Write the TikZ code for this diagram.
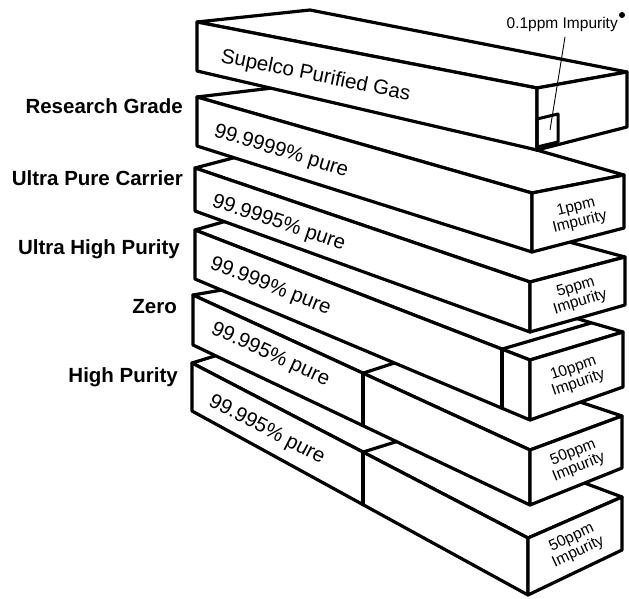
\documentclass[tikz,border=0pt]{standalone}
\usepackage{fontspec}
\setmainfont{Liberation Sans}
\usetikzlibrary{calc}
\newcommand\drawgasbox[1]{%
  \filldraw[edge] (#1flt)--(#1blt)--(#1brt)--(#1frt)--cycle;
  \filldraw[edge] (#1flt)--(#1frt)--(#1frb)--(#1flb)--cycle;
  \filldraw[edge] (#1frt)--(#1brt)--(#1brb)--(#1frb)--cycle;}
\begin{document}
\begin{tikzpicture}[x=1pt,y=-1pt,
  edge/.style={draw=black,fill=white,line width=3.2pt,line join=round},
  divline/.style={draw=black,line width=3.2pt,line cap=round},
  grade/.style={font=\fontsize{20.5}{24}\selectfont\bfseries,anchor=base east,inner sep=0pt},
  puretext/.style={font=\fontsize{20.5}{24}\selectfont,anchor=base west,inner sep=0pt},
  imptext/.style={font=\fontsize{15.5}{15.5}\selectfont,align=center,inner sep=0pt},
]
\useasboundingbox (0,0) rectangle (629,599);

% ---- coordinates ----
\coordinate (b0flt) at (197,22);  \coordinate (b0flb) at (197,71);
\coordinate (b0frt) at (537,88);  \coordinate (b0frb) at (537,150);
\coordinate (b0brt) at (627,72);  \coordinate (b0brb) at (627,127);
\coordinate (b0blt) at (310,10);

\coordinate (b1flt) at (197,97);  \coordinate (b1flb) at (197,146);
\coordinate (b1frt) at (532,193); \coordinate (b1frb) at (532,252);
\coordinate (b1brt) at (624,175); \coordinate (b1brb) at (624,228);
\coordinate (b1blt) at (306,84);

\coordinate (b2flt) at (195,168); \coordinate (b2flb) at (195,211);
\coordinate (b2frt) at (530,282); \coordinate (b2frb) at (530,332);
\coordinate (b2brt) at (625,257); \coordinate (b2brb) at (625,305);
\coordinate (b2blt) at (244.4,155);

\coordinate (b3flt) at (195,230); \coordinate (b3flb) at (195,279);
\coordinate (b3frt) at (530,360); \coordinate (b3frb) at (530,420);
\coordinate (b3brt) at (623,332); \coordinate (b3brb) at (623,387);
\coordinate (b3blt) at (234.2,218.8);

\coordinate (b4flt) at (193,295); \coordinate (b4flb) at (193,345);
\coordinate (b4frt) at (530,450); \coordinate (b4frb) at (530,505);
\coordinate (b4brt) at (622,416); \coordinate (b4brb) at (622,468);
\coordinate (b4blt) at (236.5,287.5);

\coordinate (b5flt) at (192,363); \coordinate (b5flb) at (192,411);
\coordinate (b5frt) at (528,538); \coordinate (b5frb) at (528,595);
\coordinate (b5brt) at (622,497); \coordinate (b5brb) at (622,550);
\coordinate (b5blt) at (231,351);

% ---- boxes, bottom first ----
\drawgasbox{b5}
\draw[divline] ($(b5flt)!0.509!(b5frt)$) coordinate (d5t) -- ($(b5flb)!0.509!(b5frb)$) coordinate (d5b);
\coordinate (d5k) at (437,429);
\draw[divline] (d5t) -- (d5k);

\drawgasbox{b4}
\draw[divline] ($(b4flt)!0.5045!(b4frt)$) coordinate (d4t) -- ($(b4flb)!0.5045!(b4frb)$) coordinate (d4b);
\coordinate (d4k) at (428,352);
\draw[divline] (d4t) -- (d4k);

\drawgasbox{b3}
\draw[divline] ($(b3flt)!0.9164!(b3frt)$) coordinate (d3t) -- ($(b3flb)!0.9164!(b3frb)$) coordinate (d3b);
\coordinate (d3k) at (591,323);
\draw[divline] (d3t) -- (d3k);

\drawgasbox{b2}
\drawgasbox{b1}
\drawgasbox{b0}

% impurity square on the top box
\coordinate (sq1) at (537,119); \coordinate (sq2) at (558,114);
\coordinate (sq3) at (558,142); \coordinate (sq4) at (537,147);
\draw[line width=3pt,line join=round] (sq1)--(sq2)--(sq3)--(sq4)--cycle;
\coordinate (sqc) at (550,130);

% ---- texts on boxes ----
\node[puretext,rotate=-11.5] (t0) at (220,62) {Supelco Purified Gas};
\node[puretext,rotate=-17]   (t1) at (213,136) {99.9999\% pure};
\node[puretext,rotate=-18.5] (t2) at (211,206) {99.9995\% pure};
\node[puretext,rotate=-21.5] (t3) at (209,268) {99.999\% pure};
\node[puretext,rotate=-24.5] (t4) at (210,333) {99.995\% pure};
\node[puretext,rotate=-27.5] (t5) at (207.5,405) {99.995\% pure};

\node[imptext,rotate=14] (i1) at (578,215) {1ppm\\Impurity};
\node[imptext,rotate=17] (i2) at (578,295) {5ppm\\Impurity};
\node[imptext,rotate=19] (i3) at (576,376) {10ppm\\Impurity};
\node[imptext,rotate=22] (i4) at (576,460) {50ppm\\Impurity};
\node[imptext,rotate=25] (i5) at (575,545) {50ppm\\Impurity};

% ---- top label with leader ----
\node[font=\fontsize{15.5}{16}\selectfont,anchor=base east,inner sep=0pt] (top) at (618,29) {0.1ppm Impurity};
\fill (622,15) circle (3pt);
\coordinate (lead) at (565,37);
\draw[line width=0.9pt] (lead) -- (sqc);

% ---- grade labels ----
\node[grade] (g1) at (183,114) {Research Grade};
\node[grade] (g2) at (183,185) {Ultra Pure Carrier};
\node[grade] (g3) at (180,254) {Ultra High Purity};
\node[grade] (g4) at (177,313) {Zero};
\node[grade] (g5) at (178,382) {High Purity};
\end{tikzpicture}
\end{document}
